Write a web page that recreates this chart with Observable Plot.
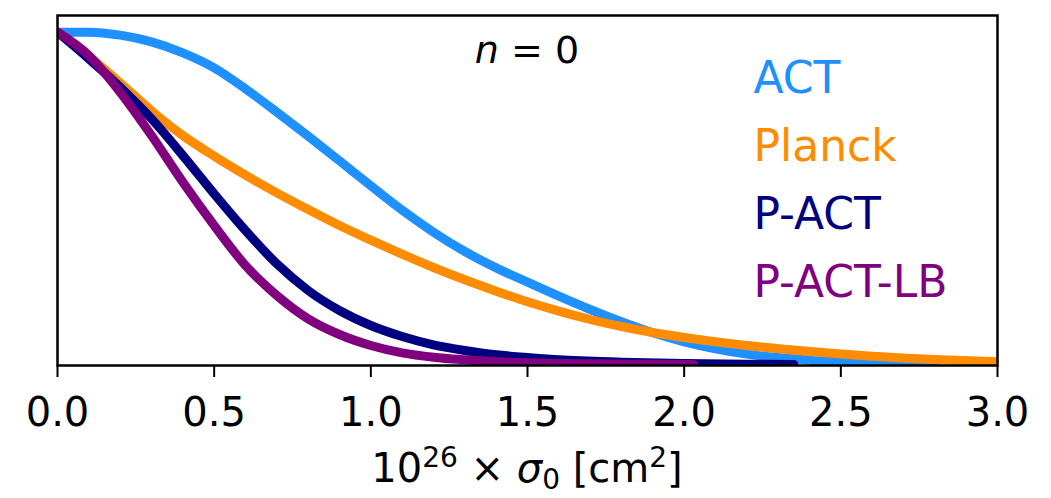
<!DOCTYPE html>
<html><head><meta charset="utf-8">
<script src="https://cdn.jsdelivr.net/npm/d3@7"></script>
<script src="https://cdn.jsdelivr.net/npm/@observablehq/plot@0.6"></script>
<style>body{margin:0;background:#fff} svg{display:block}</style>
</head><body><div id="chart"></div>
<script>
const seriesNames = ["ACT", "Planck", "P-ACT", "P-ACT-LB"];
const seriesColors = ["#1E90FF", "#FF8C00", "#000080", "#800080"];
const xTicks = [0, 0.5, 1.0, 1.5, 2.0, 2.5, 3.0];

const actSigma = [0,0.1,0.2,0.3,0.4,0.5,0.6,0.7,0.8,0.9,1.0,1.1,1.2,1.3,1.4,1.5,1.6,1.7,1.8,1.9,2.0,2.1,2.2,2.4,2.6,2.8];
const actValue = [1.0,1.0,0.991,0.971,0.938,0.893,0.83,0.76,0.688,0.614,0.539,0.466,0.4,0.342,0.293,0.25,0.208,0.168,0.131,0.098,0.071,0.05,0.034,0.016,0.007,0.003];

const planckSigma = [0,0.1,0.2,0.3,0.4,0.5,0.6,0.7,0.8,0.9,1.0,1.1,1.2,1.3,1.4,1.5,1.6,1.7,1.8,1.9,2.0,2.2,2.4,2.6,2.8,3.0];
const planckValue = [1.0,0.928,0.848,0.764,0.69,0.628,0.571,0.518,0.468,0.42,0.376,0.334,0.294,0.257,0.223,0.191,0.163,0.138,0.117,0.099,0.084,0.06,0.042,0.028,0.018,0.011];

const pactSigma = [0,0.1,0.2,0.3,0.4,0.5,0.6,0.7,0.8,0.9,1.0,1.1,1.2,1.3,1.4,1.5,1.6,1.8,2.0,2.2,2.35];
const pactValue = [1.0,0.92,0.835,0.74,0.63,0.515,0.405,0.305,0.225,0.165,0.12,0.087,0.062,0.045,0.032,0.024,0.017,0.01,0.006,0.004,0.003];

const pactlbSigma = [0,0.1,0.2,0.3,0.4,0.5,0.6,0.7,0.8,0.9,1.0,1.1,1.2,1.3,1.4,1.6,1.8,2.03];
const pactlbValue = [1.0,0.93,0.82,0.69,0.55,0.42,0.30,0.21,0.14,0.093,0.06,0.038,0.025,0.017,0.011,0.006,0.004,0.003];

const table = [];
[[actSigma, actValue], [planckSigma, planckValue], [pactSigma, pactValue], [pactlbSigma, pactlbValue]]
  .forEach(([xs, ys], i) => xs.forEach((s, j) => table.push({series: seriesNames[i], sigma: s, value: ys[j]})));

const legendMarks = seriesNames.map((name, i) =>
  Plot.text([name], {
    frameAnchor: "top-left", text: d => d, fill: seriesColors[i],
    textAnchor: "start", lineAnchor: "middle",
    dx: 696, dy: 63 + i * 68, fontSize: 44
  })
);

const chart = Plot.plot({
  width: 1051, height: 498,
  marginLeft: 57, marginRight: 54, marginTop: 15, marginBottom: 133,
  style: {fontFamily: "DejaVu Sans", background: "white", color: "black"},
  x: {domain: [0, 3]},
  y: {domain: [0, 1.05], axis: null},
  color: {domain: seriesNames, range: seriesColors},
  marks: [
    Plot.line(table, {x: "sigma", y: "value", z: "series", stroke: "series", strokeWidth: 9, curve: "monotone-x", clip: "frame"}),
    Plot.frame({stroke: "black", strokeWidth: 2.5}),
    Plot.axisX({ticks: xTicks, tickFormat: d3.format(".1f"), tickSize: 12, tickPadding: 20, fontSize: 40, strokeWidth: 2, label: null, color: "black"}),
    ...legendMarks
  ]
});

const sx = chart.scale("x");
const svg = d3.select(chart);
const mid = sx.apply(1.5);

const lab = svg.append("text").attr("x", mid).attr("y", 498 - 16)
  .attr("text-anchor", "middle").attr("font-family", "DejaVu Sans").attr("font-size", 40).attr("fill", "black");
lab.append("tspan").text("10");
lab.append("tspan").attr("dy", -15).attr("font-size", 28).text("26");
lab.append("tspan").attr("dy", 15).text(" × ");
lab.append("tspan").attr("font-style", "italic").text("σ");
lab.append("tspan").attr("dy", 7).attr("font-size", 28).text("0");
lab.append("tspan").attr("dy", -7).text(" [cm");
lab.append("tspan").attr("dy", -15).attr("font-size", 28).text("2");
lab.append("tspan").attr("dy", 15).text("]");

const ann = svg.append("text").attr("x", mid).attr("y", 15 + 48)
  .attr("text-anchor", "middle").attr("font-family", "DejaVu Sans").attr("font-size", 38).attr("fill", "black");
ann.append("tspan").attr("font-style", "italic").text("n");
ann.append("tspan").text(" = 0");

document.getElementById("chart").append(chart);
</script>
</body></html>
